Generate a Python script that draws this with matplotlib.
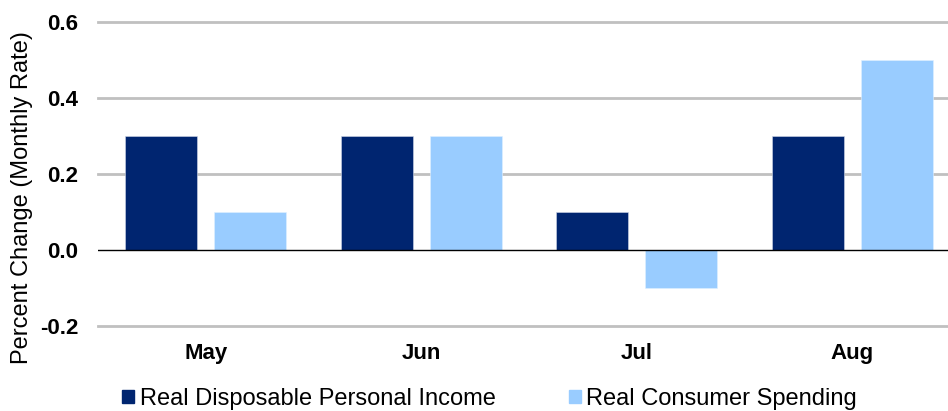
import matplotlib.pyplot as plt
import numpy as np
from matplotlib.patches import Patch

plt.rcParams['font.family'] = ['Liberation Sans', 'DejaVu Sans']

months = ['May', 'Jun', 'Jul', 'Aug']
income = [0.3, 0.3, 0.1, 0.3]
spending = [0.1, 0.3, -0.1, 0.5]
series_names = ['Real Disposable Personal Income', 'Real Consumer Spending']
y_ticks = [-0.2, 0.0, 0.2, 0.4, 0.6]

dark = '#002570'
light = '#99CCFF'

fig = plt.figure(figsize=(9.48, 4.11), dpi=100)
# plot area runs slightly past the right edge, as in the reference
ax = fig.add_axes([98 / 948, 85 / 411, 862 / 948, 304 / 411])

x = np.arange(len(months))
w = 0.335
ax.bar(x - 0.207, income, w, color=dark, edgecolor='#d0d8e8', linewidth=0.4, zorder=3)
ax.bar(x + 0.207, spending, w, color=light, edgecolor='#e0f0ff', linewidth=0.4, zorder=3)

ax.set_xlim(-0.5, 3.5)
ax.set_ylim(-0.2, 0.6)
ax.set_yticks(y_ticks)
ax.set_yticklabels([f'{v:.1f}' for v in y_ticks], fontsize=16, fontweight='bold')
ax.set_xticks(x)
ax.set_xticklabels(months, fontsize=16, fontweight='bold')
ax.tick_params(length=0, axis='both')
ax.tick_params(axis='x', pad=12)
ax.tick_params(axis='y', pad=14)

for v in y_ticks:
    if v != 0:
        ax.axhline(v, color='#c0c0c0', linewidth=2, zorder=1, clip_on=False)
ax.axhline(0, color='black', linewidth=1, zorder=4)

for s in ax.spines.values():
    s.set_visible(False)

ax.set_ylabel('Percent Change (Monthly Rate)', fontsize=17)
ax.yaxis.set_label_coords(-0.075, 0.424)

handles = [Patch(color=dark), Patch(color=light)]
fig.legend(handles, series_names, loc='center left', bbox_to_anchor=(122 / 948, 12 / 411),
           ncol=2, frameon=False, fontsize=17, handlelength=0.5, handleheight=0.5,
           handletextpad=0.25, columnspacing=3.1, borderaxespad=0, borderpad=0)

fig.savefig('out.png', dpi=100)
